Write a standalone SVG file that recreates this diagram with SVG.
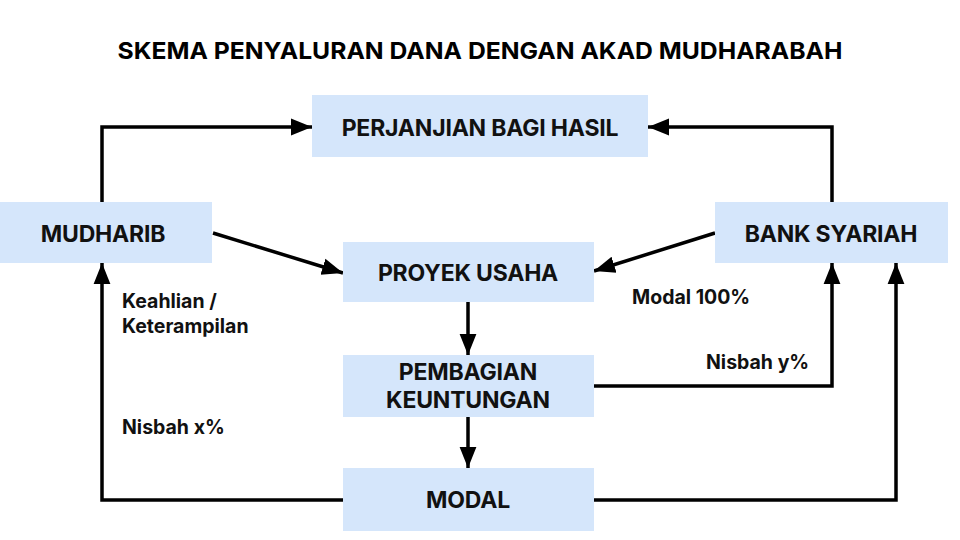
<svg xmlns="http://www.w3.org/2000/svg" width="960" height="540" viewBox="0 0 960 540">
<style>
.box{fill:#d5e6fb}
.nt{font-family:Inter,"Liberation Sans",sans-serif;font-weight:700;font-size:23px;fill:#111;text-anchor:middle;letter-spacing:-0.2px}
.lb{font-family:Inter,"Liberation Sans",sans-serif;font-weight:700;font-size:19.5px;fill:#111;letter-spacing:0px}
.ln{fill:none;stroke:#000;stroke-width:3.5}
</style>
<defs>
<marker id="ah" viewBox="0 0 10 10" refX="10" refY="5" markerWidth="6" markerHeight="6" markerUnits="strokeWidth" orient="auto">
<path d="M0,1 L10,5 L0,9 Z" fill="#000"/>
</marker>
</defs>
<rect width="960" height="540" fill="#fff"/>
<text x="480" y="59" font-family="Inter,'Liberation Sans',sans-serif" font-weight="700" font-size="23.5" fill="#000" text-anchor="middle" textLength="725" lengthAdjust="spacingAndGlyphs">SKEMA PENYALURAN DANA DENGAN AKAD MUDHARABAH</text>
<g id="connectors">
<path class="ln" d="M102,202 V127 H312" marker-end="url(#ah)"/>
<path class="ln" d="M832,202 V127 H648" marker-end="url(#ah)"/>
<path class="ln" d="M213,233 L343,273" marker-end="url(#ah)"/>
<path class="ln" d="M715,233 L594,271" marker-end="url(#ah)"/>
<path class="ln" d="M468,302 V355" marker-end="url(#ah)"/>
<path class="ln" d="M468,417 V468" marker-end="url(#ah)"/>
<path class="ln" d="M343,500 H102 V263" marker-end="url(#ah)"/>
<path class="ln" d="M594,386 H832 V263" marker-end="url(#ah)"/>
<path class="ln" d="M594,500 H896 V263" marker-end="url(#ah)"/>
</g>
<g id="labels">
<text class="lb" x="122" y="308">Keahlian /</text>
<text class="lb" x="122" y="333">Keterampilan</text>
<text class="lb" x="122" y="434">Nisbah x%</text>
<text class="lb" x="632" y="304">Modal 100%</text>
<text class="lb" x="706" y="369">Nisbah y%</text>
</g>
<g id="perjanjian"><rect class="box" x="312" y="95" width="336" height="62"/><text class="nt" x="480" y="136">PERJANJIAN BAGI HASIL</text></g>
<g id="mudharib"><rect class="box" x="0" y="202" width="212" height="61"/><text class="nt" x="103" y="242">MUDHARIB</text></g>
<g id="bank"><rect class="box" x="715" y="202" width="233" height="61"/><text class="nt" x="831" y="242">BANK SYARIAH</text></g>
<g id="proyek"><rect class="box" x="343" y="242" width="251" height="60"/><text class="nt" x="468" y="281">PROYEK USAHA</text></g>
<g id="pembagian"><rect class="box" x="343" y="355" width="251" height="62"/><text class="nt" x="468" y="380">PEMBAGIAN</text><text class="nt" x="468" y="408">KEUNTUNGAN</text></g>
<g id="modal"><rect class="box" x="343" y="468" width="251" height="63"/><text class="nt" x="468" y="508">MODAL</text></g>
</svg>
